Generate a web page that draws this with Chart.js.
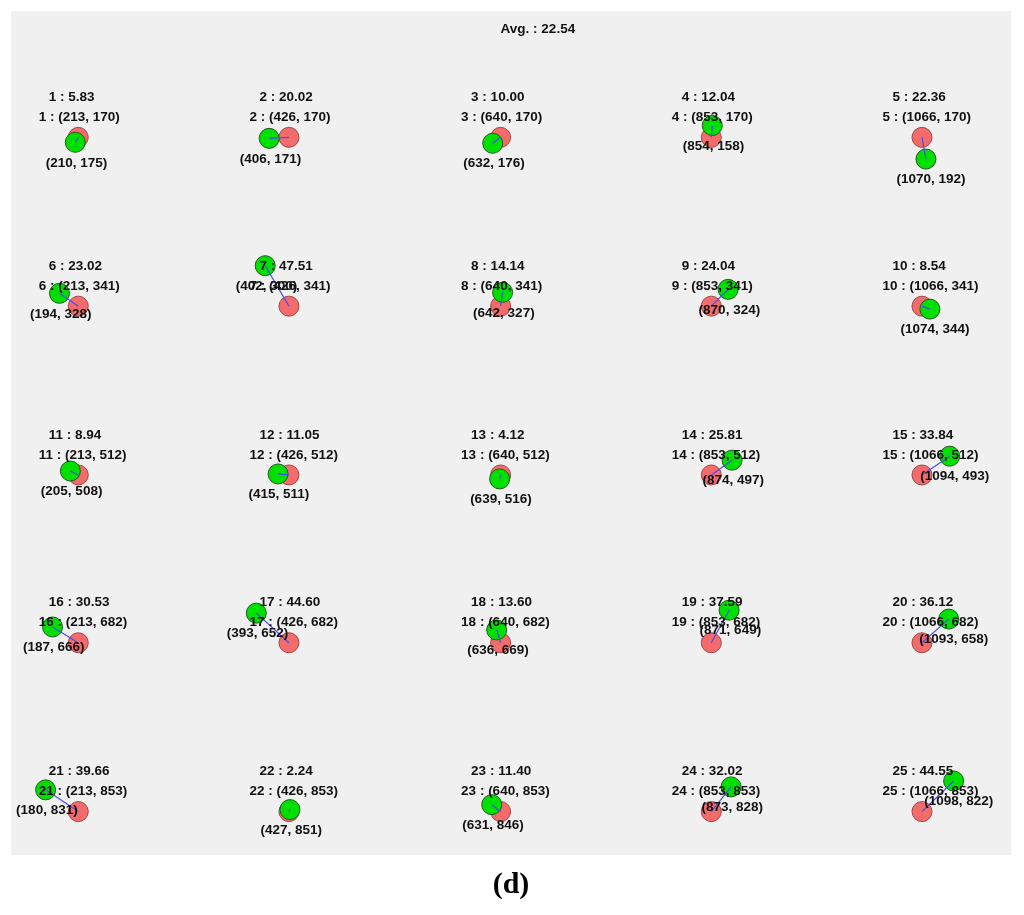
<!DOCTYPE html>
<html>
<head>
<meta charset="utf-8">
<script src="https://cdn.jsdelivr.net/npm/chart.js@4"></script>
<style>
  html, body { margin: 0; padding: 0; background: #fff; }
</style>
</head>
<body>
<canvas id="calib" width="1024" height="915"></canvas>
<script>
// pontos alvo (coordenadas de tela) e onde o ponto foi medido
const alvoX = [213, 426, 640, 853, 1066, 213, 426, 640, 853, 1066, 213, 426, 640, 853, 1066, 213, 426, 640, 853, 1066, 213, 426, 640, 853, 1066];
const alvoY = [170, 170, 170, 170, 170, 341, 341, 341, 341, 341, 512, 512, 512, 512, 512, 682, 682, 682, 682, 682, 853, 853, 853, 853, 853];
const medidoX = [210, 406, 632, 854, 1070, 194, 402, 642, 870, 1074, 205, 415, 639, 874, 1094, 187, 393, 636, 871, 1093, 180, 427, 631, 873, 1098];
const medidoY = [175, 171, 176, 158, 192, 328, 300, 327, 324, 344, 508, 511, 516, 497, 493, 666, 652, 669, 649, 658, 831, 851, 846, 828, 822];
// erro de cada ponto
const erros = [5.83, 20.02, 10.00, 12.04, 22.36, 23.02, 47.51, 14.14, 24.04, 8.54, 8.94, 11.05, 4.12, 25.81, 33.84, 30.53, 44.60, 13.60, 37.59, 36.12, 39.66, 2.24, 11.40, 32.02, 44.55];
const media = 22.54;

const pontosAlvo = alvoX.map((x, i) => ({ x, y: alvoY[i] }));
const pontosMedidos = medidoX.map((x, i) => ({ x, y: medidoY[i] }));

// uma linha curta ligando alvo e medido de cada ponto
const linhas = alvoX.map((x, i) => ({
  type: "line",
  data: [pontosAlvo[i], pontosMedidos[i]],
  borderColor: "#4b4bf0",
  borderWidth: 1.2,
  pointRadius: 0,
  fill: false,
  order: 0,
}));

const fundo = {
  id: "fundo",
  beforeDraw(chart) {
    const { ctx, chartArea: a } = chart;
    ctx.save();
    ctx.fillStyle = "#ffffff";
    ctx.fillRect(0, 0, chart.width, chart.height);
    ctx.fillStyle = "#f0f0f0";
    ctx.fillRect(a.left, a.top, a.right - a.left, a.bottom - a.top);
    ctx.restore();
  },
};

// textos de cada ponto: erro, alvo e posição medida
const rotulos = {
  id: "rotulos",
  afterDatasetsDraw(chart) {
    const { ctx, chartArea } = chart;
    const sx = chart.scales.x;
    const sy = chart.scales.y;
    ctx.save();
    ctx.font = "bold 13.5px 'Liberation Sans', Arial, sans-serif";
    ctx.fillStyle = "#111";
    ctx.textAlign = "left";
    ctx.textBaseline = "middle";
    ctx.fillText(`Avg. : ${media.toFixed(2)}`, sx.getPixelForValue(640), chartArea.top + 18);
    alvoX.forEach((x, i) => {
      const n = i + 1;
      const tx = sx.getPixelForValue(x);
      const ty = sy.getPixelForValue(alvoY[i]);
      ctx.fillText(`${n} : ${erros[i].toFixed(2)}`, tx - 29.5, ty - 40);
      ctx.fillText(`${n} : (${x}, ${alvoY[i]})`, tx - 39.5, ty - 20);
      const mx = sx.getPixelForValue(medidoX[i]);
      const my = sy.getPixelForValue(medidoY[i]);
      ctx.fillText(`(${medidoX[i]}, ${medidoY[i]})`, mx - 29.5, my + 20.5);
    });
    ctx.restore();
  },
};

new Chart(document.getElementById("calib"), {
  type: "scatter",
  data: {
    datasets: [
      ...linhas,
      {
        label: "medido",
        data: pontosMedidos,
        pointRadius: 10,
        backgroundColor: "#00e000",
        borderColor: "#1f5a1f",
        borderWidth: 1,
        order: 1,
      },
      {
        label: "alvo",
        data: pontosAlvo,
        pointRadius: 10,
        backgroundColor: "#f46b6b",
        borderColor: "#a04848",
        borderWidth: 1,
        order: 2,
      },
    ],
  },
  options: {
    responsive: false,
    animation: false,
    events: [],
    layout: { padding: { left: 11, right: 13, top: 10, bottom: 0 } },
    scales: {
      x: { type: "linear", min: 145, max: 1156, display: false },
      y: { type: "linear", min: 42, max: 897, reverse: true, display: false },
    },
    plugins: {
      legend: { display: false },
      tooltip: { enabled: false },
      title: {
        display: true,
        position: "bottom",
        text: "(d)",
        color: "#000",
        font: { family: "'Liberation Serif', 'Times New Roman', serif", size: 30, weight: "bold", lineHeight: 1.2 },
        padding: { top: 12, bottom: 12 },
      },
    },
  },
  plugins: [fundo, rotulos],
});
</script>
</body>
</html>
